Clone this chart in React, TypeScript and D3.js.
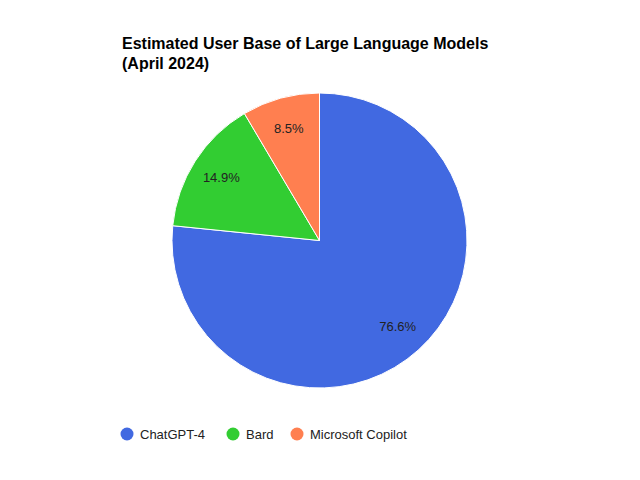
import React from "react";
import * as d3 from "d3";

const categories = ["ChatGPT-4", "Bard", "Microsoft Copilot"];
const values = [76.6, 14.9, 8.5];
const colors = ["#4169E1", "#32CD32", "#FF7F50"];
const titleLines = ["Estimated User Base of Large Language Models", "(April 2024)"];

export default function App() {
  const width = 640;
  const height = 480;
  const cx = 319.5;
  const cy = 240.5;
  const r = 147.5;
  const data = categories.map((c, i) => ({ name: c, value: values[i], color: colors[i] }));
  const pie = d3.pie<any>().value((d: any) => d.value).sort(null);
  const arcs = pie(data);
  const arc = d3.arc<any>().innerRadius(0).outerRadius(r);
  const labelArc = d3.arc<any>().innerRadius(r * 0.79).outerRadius(r * 0.79);
  const total = d3.sum(values);
  const legendX = [127, 233, 297];
  const font = "Arial, 'Liberation Sans', sans-serif";
  return (
    <svg width={width} height={height} style={{ position: "absolute", left: 0, top: 0 }} fontFamily={font}>
      <rect width={width} height={height} fill="#fff" />
      {titleLines.map((t, i) => (
        <text key={i} x={122} y={49 + i * 20} fontSize={16} fontWeight="bold" fill="#000">
          {t}
        </text>
      ))}
      <g transform={`translate(${cx},${cy})`}>
        {arcs.map((a, i) => (
          <path key={i} d={arc(a) as string} fill={a.data.color} stroke="#fff" strokeWidth={1} />
        ))}
        {arcs.map((a, i) => {
          const [x, y] = labelArc.centroid(a);
          return (
            <text key={i} x={x} y={y} dy="0.35em" textAnchor="middle" fontSize={13} fill="#222">
              {((a.data.value / total) * 100).toFixed(1)}%
            </text>
          );
        })}
      </g>
      {categories.map((c, i) => (
        <g key={c}>
          <circle cx={legendX[i]} cy={434} r={6.5} fill={colors[i]} />
          <text x={legendX[i] + 13} y={439} fontSize={13} fill="#222">
            {c}
          </text>
        </g>
      ))}
    </svg>
  );
}
